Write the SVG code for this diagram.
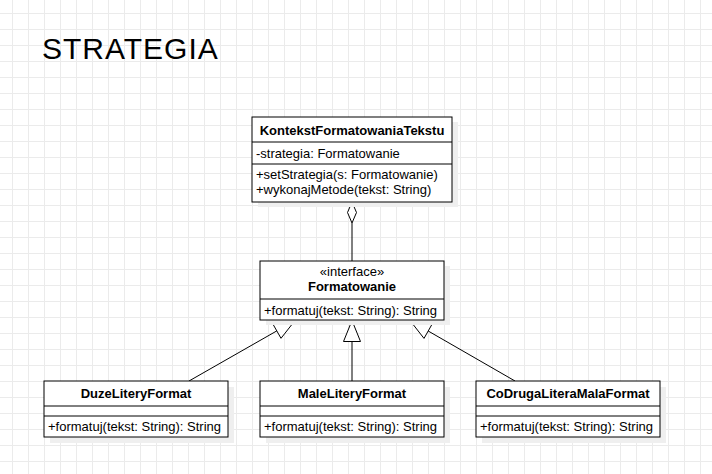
<svg xmlns="http://www.w3.org/2000/svg" width="712" height="474" viewBox="0 0 712 474">
<style>
.box{fill:#fff;stroke:#000;stroke-width:1}
.shadow{fill:#efefef}
.div{stroke:#000;stroke-width:1}
.t{font-family:"Liberation Sans",Arial,sans-serif;font-size:13px;fill:#000}
.b{font-weight:bold}
.c{text-anchor:middle}
.edge{fill:none;stroke:#000;stroke-width:1}
.head{fill:#fff;stroke:#000;stroke-width:1;stroke-linejoin:miter}
</style>
<defs>
<pattern id="grid" patternUnits="userSpaceOnUse" x="12" y="13" width="16" height="16">
<path d="M0.5,0 V16 M0,0.5 H16" stroke="#ebebeb" stroke-width="1" fill="none"/>
</pattern>
</defs>
<rect width="712" height="474" fill="#fff"/>
<rect width="712" height="474" fill="url(#grid)"/>
<text x="42" y="58.5" font-family="'Liberation Sans',Arial,sans-serif" font-size="30" letter-spacing="1" fill="#000">STRATEGIA</text>
<g id="edges">
<path class="edge" d="M352,261 L352,223"/>
<polygon class="head" points="352,202 356.5,212.5 352,223 347.5,212.5"/>
<path class="edge" d="M189,381 L276.8,330.9"/>
<polygon class="head" points="295,320.5 281,338.3 272.6,323.5"/>
<path class="edge" d="M352,381 L352,341.5"/>
<polygon class="head" points="352,320.5 360.5,341.5 343.5,341.5"/>
<path class="edge" d="M515,381 L428.2,331"/>
<polygon class="head" points="410,320.5 432.4,323.6 424,338.4"/>
</g>
<g id="KontekstFormatowaniaTekstu">
<rect class="shadow" x="258" y="122" width="200" height="85"/>
<rect class="box" x="252" y="117" width="200" height="85"/>
<line class="div" x1="252" y1="142" x2="452" y2="142"/>
<line class="div" x1="252" y1="164" x2="452" y2="164"/>
<text class="t b c" x="352" y="134.5">KontekstFormatowaniaTekstu</text>
<text class="t" x="256" y="157.5">-strategia: Formatowanie</text>
<text class="t" x="256" y="179">+setStrategia(s: Formatowanie)</text>
<text class="t" x="256" y="194">+wykonajMetode(tekst: String)</text>
</g>
<g id="Formatowanie">
<rect class="shadow" x="266" y="266" width="184" height="59"/>
<rect class="box" x="260" y="261" width="184" height="59"/>
<line class="div" x1="260" y1="299" x2="444" y2="299"/>
<text class="t c" x="352" y="275.5">«interface»</text>
<text class="t b c" x="352" y="291">Formatowanie</text>
<text class="t" x="264" y="314.5">+formatuj(tekst: String): String</text>
</g>
<g id="DuzeLiteryFormat">
<rect class="shadow" x="50" y="387" width="184" height="56"/>
<rect class="box" x="44" y="381" width="184" height="56"/>
<line class="div" x1="44" y1="406" x2="228" y2="406"/>
<line class="div" x1="44" y1="416" x2="228" y2="416"/>
<text class="t b c" x="136" y="398">DuzeLiteryFormat</text>
<text class="t" x="48" y="431">+formatuj(tekst: String): String</text>
</g>
<g id="MaleLiteryFormat">
<rect class="shadow" x="266" y="387" width="184" height="56"/>
<rect class="box" x="260" y="381" width="184" height="56"/>
<line class="div" x1="260" y1="406" x2="444" y2="406"/>
<line class="div" x1="260" y1="416" x2="444" y2="416"/>
<text class="t b c" x="352" y="398">MaleLiteryFormat</text>
<text class="t" x="264" y="431">+formatuj(tekst: String): String</text>
</g>
<g id="CoDrugaLiteraMalaFormat">
<rect class="shadow" x="482" y="387" width="184" height="56"/>
<rect class="box" x="476" y="381" width="184" height="56"/>
<line class="div" x1="476" y1="406" x2="660" y2="406"/>
<line class="div" x1="476" y1="416" x2="660" y2="416"/>
<text class="t b c" x="568" y="398">CoDrugaLiteraMalaFormat</text>
<text class="t" x="480" y="431">+formatuj(tekst: String): String</text>
</g>
</svg>
